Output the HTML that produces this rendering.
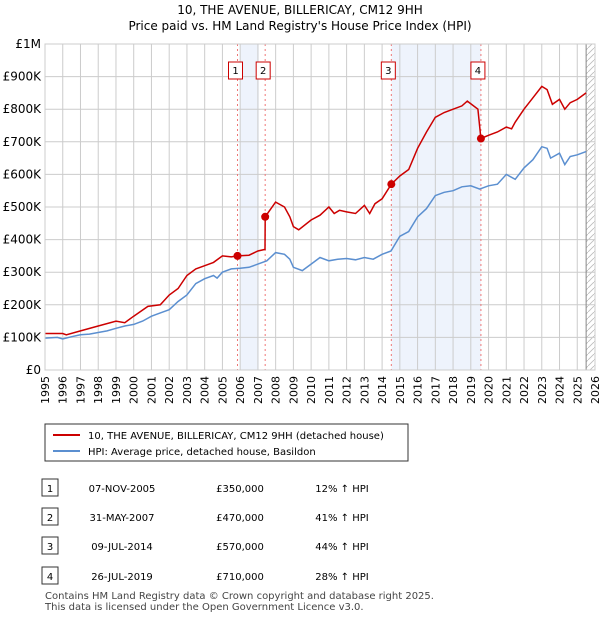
<!DOCTYPE html>
<html><head><meta charset="utf-8"><style>
body{margin:0;background:#fff;font-family:"Liberation Sans","DejaVu Sans",sans-serif;}
svg text{font-family:"DejaVu Sans","Liberation Sans",sans-serif;}
</style></head><body>
<svg id="chart" width="600" height="620" xmlns="http://www.w3.org/2000/svg">
<text x="300" y="14" text-anchor="middle" font-size="12">10, THE AVENUE, BILLERICAY, CM12 9HH</text>
<text x="300" y="30" text-anchor="middle" font-size="12">Price paid vs. HM Land Registry's House Price Index (HPI)</text>
<g id="plot"></g>
<g>
<rect x="45" y="424" width="363" height="37" fill="#fff" stroke="#333"/>
<line x1="53" y1="435" x2="80" y2="435" stroke="#cc0000" stroke-width="2"/>
<text x="88" y="439" font-size="10">10, THE AVENUE, BILLERICAY, CM12 9HH (detached house)</text>
<line x1="53" y1="451" x2="80" y2="451" stroke="#5b8fd0" stroke-width="2"/>
<text x="88" y="455" font-size="10">HPI: Average price, detached house, Basildon</text>
</g>
<g id="table" font-size="10"></g>
<text x="45" y="599" font-size="10" fill="#444">Contains HM Land Registry data © Crown copyright and database right 2025.</text>
<text x="45" y="610" font-size="10" fill="#444">This data is licensed under the Open Government Licence v3.0.</text>
</svg>
<script>
const hpiX=[1995,1995.7,1996,1996.5,1997,1997.5,1998,1998.5,1999,1999.5,2000,2000.5,2001,2001.5,2002,2002.5,2003,2003.5,2004,2004.5,2004.7,2005,2005.5,2006,2006.5,2007,2007.5,2008,2008.5,2008.8,2009,2009.5,2010,2010.5,2011,2011.5,2012,2012.5,2013,2013.5,2014,2014.5,2015,2015.5,2016,2016.5,2017,2017.5,2018,2018.5,2019,2019.5,2020,2020.5,2021,2021.5,2022,2022.5,2023,2023.3,2023.5,2024,2024.3,2024.6,2025,2025.5];
const hpiY=[98,100,95,102,108,110,115,120,128,135,140,150,165,175,185,210,230,265,280,290,282,300,310,312,315,325,335,360,355,340,315,305,325,345,335,340,342,338,345,340,355,365,410,425,470,495,535,545,550,562,565,555,565,570,600,585,620,645,685,680,650,665,630,655,660,670];
const redX=[1995,1996,1996.2,1997,1998,1999,1999.5,2000,2000.8,2001.5,2002,2002.5,2003,2003.5,2004,2004.5,2005,2005.5,2005.85,2006.5,2007,2007.4,2007.41,2008,2008.5,2008.8,2009,2009.3,2010,2010.5,2011,2011.3,2011.6,2012,2012.5,2013,2013.3,2013.6,2014,2014.52,2015,2015.5,2016,2016.5,2017,2017.5,2018,2018.5,2018.8,2019.4,2019.57,2020,2020.5,2021,2021.3,2021.5,2022,2022.5,2023,2023.3,2023.6,2024,2024.3,2024.6,2025,2025.5];
const redY=[112,112,108,120,135,150,145,165,195,200,230,250,290,310,320,330,350,347,350,352,365,370,470,515,500,470,440,430,460,475,500,480,490,485,480,505,480,510,525,570,595,615,680,730,775,790,800,810,825,800,710,720,730,745,740,760,800,835,870,860,815,830,800,820,830,850];
const saleX=[2005.85,2007.41,2014.52,2019.57];
const saleY=[350,470,570,710];
const saleDates=["07-NOV-2005","31-MAY-2007","09-JUL-2014","26-JUL-2019"];
const salePrices=["£350,000","£470,000","£570,000","£710,000"];
const saleHpi=["12% ↑ HPI","41% ↑ HPI","44% ↑ HPI","28% ↑ HPI"];
const yTicks=[0,100,200,300,400,500,600,700,800,900,1000];
const yLabels=["£0","£100K","£200K","£300K","£400K","£500K","£600K","£700K","£800K","£900K","£1M"];
const xYears=[1995,1996,1997,1998,1999,2000,2001,2002,2003,2004,2005,2006,2007,2008,2009,2010,2011,2012,2013,2014,2015,2016,2017,2018,2019,2020,2021,2022,2023,2024,2025,2026];

const NS="http://www.w3.org/2000/svg";
const L=45,R=595,T=44,B=370;
const sx=v=>L+(v-1995)/31*(R-L);
const sy=v=>B-v/1000*(B-T);
const plot=document.getElementById('plot');
function mk(tag,attrs,parent){const e=document.createElementNS(NS,tag);for(const k in attrs)e.setAttribute(k,attrs[k]);(parent||plot).appendChild(e);return e;}
let s1=mk('rect',{x:sx(2006),y:T,width:sx(2007.05)-sx(2006),height:B-T,fill:'#eef3fc'});


let s2=mk('rect',{x:sx(saleX[2]),y:T,width:sx(saleX[3])-sx(saleX[2]),height:B-T,fill:'#eef3fc'});


const defs=mk('defs',{});
const pat=mk('pattern',{id:'hatch',width:6,height:6,patternUnits:'userSpaceOnUse'},defs);
mk('path',{d:'M0,6 L6,0',stroke:'#bbb','stroke-width':0.8},pat);
let hz=mk('rect',{x:sx(2025.5),y:T,width:R-sx(2025.5),height:B-T,fill:'url(#hatch)'});


yTicks.forEach((v,i)=>{
 let g=mk('line',{x1:L,x2:R,y1:sy(v),y2:sy(v),stroke:'#ccc'});
 
 
 let t=mk('text',{x:L-4,y:sy(v)+4,'text-anchor':'end','font-size':12});
 t.textContent=yLabels[i];
 
 
});
xYears.forEach(v=>{
 let g=mk('line',{x1:sx(v),x2:sx(v),y1:T,y2:B,stroke:'#ccc'});
 
 
 let t=mk('text',{x:0,y:0,'text-anchor':'end','font-size':11,transform:`translate(${sx(v)+4},${B+6}) rotate(-90)`});
 t.textContent=v;
 
 
});
mk('line',{x1:sx(2025.5),x2:sx(2025.5),y1:T,y2:B,stroke:'#888'});
saleX.forEach((v,i)=>{
 let d=mk('line',{x1:sx(v),x2:sx(v),y1:T,y2:B,stroke:'#ee7777','stroke-dasharray':'2,3','stroke-width':1});
 
 
 const off=[-9,-9,-10,-10][i];
 let b=mk('rect',{x:sx(v)+off,y:62,width:14,height:17,fill:'#fff',stroke:'#cc0000'});
 
 
 let t=mk('text',{x:sx(v)+off+7,y:74,'text-anchor':'middle','font-size':10});
 t.textContent=i+1;
 
 
});
const pts=(xs,ys)=>xs.map((x,i)=>sx(x).toFixed(1)+','+sy(ys[i]).toFixed(1)).join(' ');
let hl=mk('polyline',{points:pts(hpiX,hpiY),fill:'none',stroke:'#5b8fd0','stroke-width':1.5});


let rl=mk('polyline',{points:pts(redX,redY),fill:'none',stroke:'#cc0000','stroke-width':1.5});


saleX.forEach((v,i)=>{
 let c=mk('circle',{cx:sx(v),cy:sy(saleY[i]),r:4,fill:'#cc0000'});
 
 
});
mk('rect',{x:L,y:T,width:R-L,height:B-T,fill:'none',stroke:'#ccc'});
const tb=document.getElementById('table');
const rowY=[488,517,546,576];
saleDates.forEach((d,i)=>{
 const y=rowY[i];
 let b=mk('rect',{x:42,y:y-9,width:16,height:17,fill:'#fff',stroke:'#333'},tb);
 
 
 let n=mk('text',{x:50,y:y+4,'text-anchor':'middle'},tb);n.textContent=i+1;
 
 
 let a=mk('text',{x:122,y:y+4,'text-anchor':'middle'},tb);a.textContent=d;
 
 
 let p=mk('text',{x:240,y:y+4,'text-anchor':'middle'},tb);p.textContent=salePrices[i];
 
 
 let h=mk('text',{x:342,y:y+4,'text-anchor':'middle'},tb);h.textContent=saleHpi[i];
 
 
});
</script>
</body></html>
